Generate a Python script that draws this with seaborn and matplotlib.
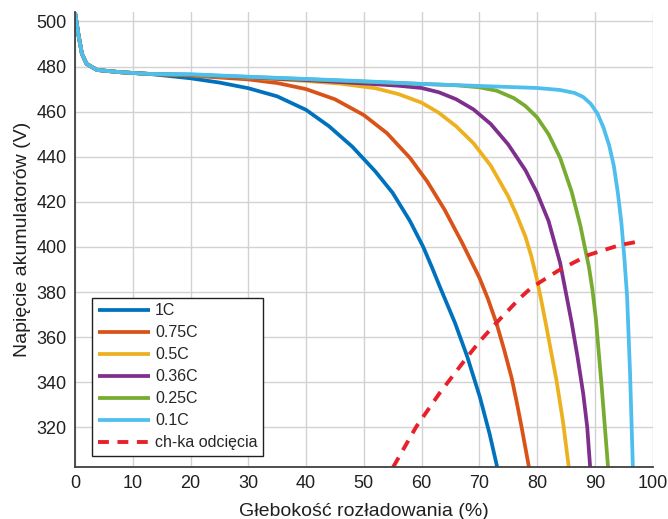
import numpy as np
import pandas as pd
import matplotlib
matplotlib.use("Agg")
import matplotlib.pyplot as plt
import seaborn as sns

# ---- data ----
start_x = [0, 0.6, 1.2, 2, 3.8, 7.8, 13]
start_y = [504, 494, 485.6, 481.2, 478.5, 477.5, 476.7]

x_1c = [20, 25, 30, 35, 40, 44, 48, 52, 55, 58, 60.3, 61.8, 63.2, 65.8, 67.9, 70.1, 71.8, 73.1]
y_1c = [474.8, 472.9, 470.4, 466.8, 460.8, 453.5, 444.5, 433.5, 424, 411.5, 400, 391, 382.2, 366.3, 351.5, 333.5, 317, 302.4]

x_075c = [20, 30, 35, 40, 45, 50, 54, 58, 61, 64, 67, 70, 71.5, 73, 74.3, 75.6, 76.5, 77.3, 78.6]
y_075c = [476, 474.3, 472.7, 470, 465.5, 458.5, 450.5, 439.5, 429, 416.5, 402, 386.5, 377, 366, 354.5, 342, 331, 320.5, 302.4]

x_05c = [20, 30, 40, 46, 52, 56, 60, 63, 66, 69, 72, 75, 76.5, 78, 79, 80, 80.8, 81.6, 83.4, 84.5, 85.5]
y_05c = [476.2, 475.1, 473.6, 472.4, 470.4, 467.8, 464, 459.5, 453.5, 446, 436, 422.5, 414, 404.5, 396, 385.5, 375.5, 365, 340.4, 322.5, 302.4]

x_036c = [20, 30, 40, 50, 56, 60, 63, 66, 69, 72, 75, 78, 80, 82, 84, 86, 87, 88, 88.7, 89.2]
y_036c = [476.3, 475.2, 474, 472.5, 471.5, 470.5, 468.6, 465.5, 461, 454.5, 445.5, 434, 424, 411.5, 393, 366.5, 351.5, 335, 320, 302.4]

x_025c = [20, 30, 40, 50, 60, 66, 70, 73, 76, 78, 80, 82, 84, 86, 87.5, 89, 89.6, 90.2, 91.2, 92.3]
y_025c = [476.4, 475.4, 474.4, 473.3, 472.3, 471.7, 470.8, 469.3, 466, 462.5, 457.5, 450, 439.5, 424.5, 409.5, 391, 381, 368, 338, 302.4]

x_01c = [20, 30, 40, 50, 60, 70, 80, 84, 86.5, 88, 89.3, 90.5, 91.5, 92.5, 93.3, 94, 94.6, 95.1, 95.6, 96.1, 96.6]
y_01c = [476.6, 475.5, 474.5, 473.5, 472.3, 471.4, 470.5, 469.6, 468.3, 466.5, 463.5, 459, 453, 445, 436, 424, 411, 396, 378, 345, 302.4]

x_cut = [55.1, 59.1, 63.2, 67.8, 70.1, 73, 77, 79, 84, 89, 94.3, 98.4]
y_cut = [302.4, 320.3, 335.4, 350.8, 358.2, 366.4, 377.2, 381.9, 390, 396.5, 400.8, 402.8]

labels = ["1C", "0.75C", "0.5C", "0.36C", "0.25C", "0.1C"]
series_x = [x_1c, x_075c, x_05c, x_036c, x_025c, x_01c]
series_y = [y_1c, y_075c, y_05c, y_036c, y_025c, y_01c]
colors = ["#0072BD", "#D95319", "#EDB120", "#7E2F8E", "#77AC30", "#4DBEEE"]
cut_label = "ch-ka odcięcia"

xticks = list(range(0, 101, 10))
yticks = list(range(320, 501, 20))

# ---- plot ----
sns.set_style("white")
plt.rcParams["font.family"] = ["Liberation Sans", "DejaVu Sans"]

fig = plt.figure(figsize=(6.68, 5.19), dpi=100)
ax = fig.add_axes([0.1123, 0.1002, 0.8645, 0.8767])

for lab, xs, ys, col in zip(labels, series_x, series_y, colors):
    df = pd.DataFrame({"x": start_x + xs, "y": start_y + ys})
    sns.lineplot(data=df, x="x", y="y", ax=ax, color=col, lw=2.7,
                 sort=False, estimator=None, label=lab)

dfc = pd.DataFrame({"x": x_cut, "y": y_cut})
sns.lineplot(data=dfc, x="x", y="y", ax=ax, color="#E8202A", lw=2.8,
             sort=False, estimator=None, label=cut_label, dashes=False)
ax.lines[-1].set_dashes((2.8, 2.2))

for ln in ax.lines:
    ln.set_solid_joinstyle("round")
    ln.set_solid_capstyle("butt")

ax.set_xlim(0, 100)
ax.set_ylim(302.4, 504.2)
ax.set_xticks(xticks)
ax.set_yticks(yticks)
ax.grid(True, color="#d2d2d2", lw=1.0)
ax.set_axisbelow(True)
for s in ["top", "right"]:
    ax.spines[s].set_visible(False)
for s in ["left", "bottom"]:
    ax.spines[s].set_color("#404040")
    ax.spines[s].set_linewidth(1.3)
ax.tick_params(direction="in", length=4, width=1.0, color="#404040",
               labelsize=13, labelcolor="#202020", pad=6)

ax.set_xlabel("Głebokość rozładowania (%)", fontsize=14, color="#202020", labelpad=8)
ax.set_ylabel("Napięcie akumulatorów (V)", fontsize=14, color="#202020", labelpad=4)

leg = ax.legend(loc="lower left", bbox_to_anchor=(0.0295, 0.024), borderaxespad=0,
                fontsize=11.5, frameon=True, fancybox=False, handlelength=3.3,
                handletextpad=0.3, labelspacing=0.44, borderpad=0.35)
leg.get_frame().set_edgecolor("#202020")
leg.get_frame().set_linewidth(1.0)
leg.get_frame().set_alpha(1)

fig.savefig("out.png", dpi=100)
